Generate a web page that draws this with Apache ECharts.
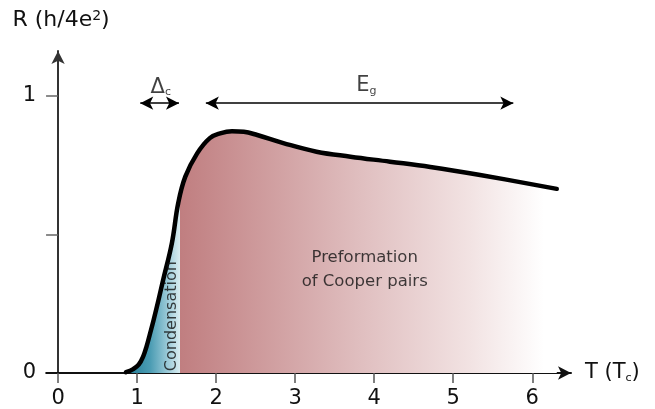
<!DOCTYPE html>
<html>
<head>
<meta charset="utf-8">
<script src="https://cdn.jsdelivr.net/npm/echarts@6/dist/echarts.min.js"></script>
<style>
  html, body { margin: 0; padding: 0; background: #ffffff; }
  #chart { width: 655px; height: 409px; }
</style>
</head>
<body>
<div id="chart"></div>
<script>
// Resistance R (units of h/4e^2) versus temperature T (units of Tc)
const temperature = [0.86, 0.95, 1.02, 1.08, 1.12, 1.16, 1.21, 1.27, 1.33, 1.44, 1.52, 1.61, 1.76, 1.92, 2.05, 2.20, 2.35, 2.52, 2.85, 3.27, 3.70, 4.20, 4.71, 5.34, 6.31];
const resistance  = [0.003, 0.014, 0.030, 0.062, 0.096, 0.138, 0.192, 0.262, 0.336, 0.468, 0.612, 0.708, 0.792, 0.847, 0.864, 0.872, 0.870, 0.858, 0.829, 0.798, 0.780, 0.762, 0.743, 0.714, 0.664];

// Axis ticks and labels
const xTickValues = [0, 1, 2, 3, 4, 5, 6];
const yTickValues = [0.5, 1];
const yLabelValues = [0, 1];

// Regimes: condensation ends here, pair-preformation shading fades out by fadeEnd
const condensationEnd = 1.54;
const fadeEnd = 6.15;

// Energy-scale arrows: [T start, T end, R level]
const deltaArrow = [1.04, 1.53, 0.973];
const gapArrow = [1.87, 5.76, 0.973];

// Text annotations: [T, R]
const deltaLabelAt = [1.30, 1.031];
const gapLabelAt = [3.90, 1.035];
const condensationLabelAt = [1.435, 0.205];
const preformationLabelAt = [3.88, 0.372];

const FONT = 'DejaVu Sans';

const curve = temperature.map((t, i) => [t, resistance[i]]);

// Gradient offsets derived from the temperature span of the shaded area
const tStart = temperature[0];
const tEnd = temperature[temperature.length - 1];
const off = t => (t - tStart) / (tEnd - tStart);
const s = off(condensationEnd);
const f = off(fadeEnd);
const fill = new echarts.graphic.LinearGradient(0, 0, 1, 0, [
  { offset: 0, color: '#217a94' },
  { offset: s * 0.45, color: '#4b9cb3' },
  { offset: s * 0.8, color: '#a2cedb' },
  { offset: s * 0.999, color: '#d8ecf0' },
  { offset: s, color: '#c07e80' },
  { offset: s + (f - s) * 0.5, color: '#e0bfc0' },
  { offset: s + (f - s) * 0.8, color: '#f2e3e3' },
  { offset: f, color: '#ffffff' },
  { offset: 1, color: '#ffffff' }
]);

const textBase = { color: '#111', fontFamily: FONT };

const chart = echarts.init(document.getElementById('chart'));
chart.setOption({
  animation: false,
  backgroundColor: '#ffffff',
  grid: { left: 46.2, right: 84, top: 51, bottom: 35.7 },
  xAxis: {
    type: 'value',
    min: -0.15,
    max: 6.49,
    name: 'T (T{sub|c})',
    nameLocation: 'end',
    nameGap: 14,
    nameTextStyle: Object.assign({}, textBase, {
      fontSize: 21,
      rich: { sub: Object.assign({}, textBase, { fontSize: 11, verticalAlign: 'bottom' }) }
    }),
    splitLine: { show: false },
    axisLine: {
      onZero: false,
      lineStyle: { color: '#111', width: 2 },
      symbol: ['none', 'arrow'],
      symbolSize: [10, 13]
    },
    axisTick: { show: true, length: 10, lineStyle: { color: '#555', width: 1.5 }, customValues: xTickValues },
    axisLabel: Object.assign({}, textBase, { fontSize: 21, margin: 15, customValues: xTickValues })
  },
  yAxis: {
    type: 'value',
    min: 0,
    max: 1.161,
    name: 'R (h/4e{sup|2})',
    nameLocation: 'end',
    nameGap: 20,
    nameTextStyle: Object.assign({}, textBase, {
      fontSize: 22,
      padding: [0, 0, 0, 6],
      rich: { sup: Object.assign({}, textBase, { fontSize: 14, verticalAlign: 'top' }) }
    }),
    splitLine: { show: false },
    axisLine: {
      onZero: true,
      lineStyle: { color: '#333', width: 2 },
      symbol: ['none', 'arrow'],
      symbolSize: [10, 13]
    },
    axisTick: { show: true, length: 12, lineStyle: { color: '#666', width: 1.5 }, customValues: yTickValues },
    axisLabel: Object.assign({}, textBase, { fontSize: 21, margin: 10, customValues: yLabelValues })
  },
  series: [
    {
      name: 'R(T)',
      type: 'line',
      data: curve,
      smooth: 0.4,
      showSymbol: false,
      silent: true,
      z: 3,
      lineStyle: { color: '#000', width: 4.5, cap: 'round', join: 'round' },
      areaStyle: { color: fill, opacity: 1 },
      markLine: {
        silent: true,
        symbol: ['arrow', 'arrow'],
        symbolSize: [10, 13],
        label: { show: false },
        lineStyle: { color: '#000', width: 1.5, type: 'solid' },
        data: [
          [{ coord: [deltaArrow[0], deltaArrow[2]] }, { coord: [deltaArrow[1], deltaArrow[2]] }],
          [{ coord: [gapArrow[0], gapArrow[2]] }, { coord: [gapArrow[1], gapArrow[2]] }]
        ]
      }
    },
    {
      name: 'labels',
      type: 'scatter',
      silent: true,
      symbolSize: 1,
      itemStyle: { color: 'rgba(0,0,0,0)' },
      z: 5,
      label: {
        show: true,
        position: 'inside',
        color: '#111',
        fontFamily: FONT,
        rich: {
          m: { fontSize: 21, color: '#111', fontFamily: FONT },
          s: { fontSize: 11, color: '#111', fontFamily: FONT, verticalAlign: 'bottom' }
        }
      },
      data: [
        { value: deltaLabelAt, label: { formatter: '{m|Δ}{s|c}' } },
        { value: gapLabelAt, label: { formatter: '{m|E}{s|g}' } },
        { value: condensationLabelAt, label: { formatter: 'Condensation', rotate: 90, fontSize: 16 } },
        { value: preformationLabelAt, label: { formatter: 'Preformation\nof Cooper pairs', fontSize: 16.5, lineHeight: 24, align: 'center' } }
      ]
    }
  ]
});
</script>
</body>
</html>
